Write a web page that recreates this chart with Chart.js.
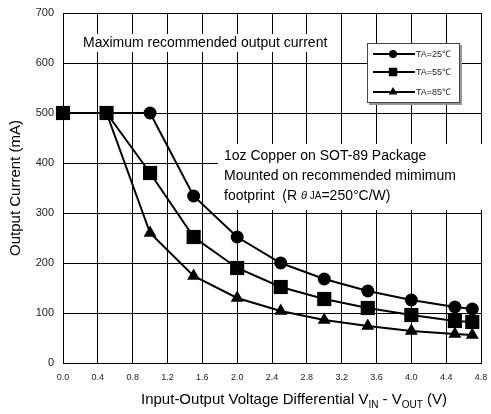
<!DOCTYPE html>
<html>
<head>
<meta charset="utf-8">
<script src="https://cdn.jsdelivr.net/npm/chart.js@4"></script>
<style>
  html, body { margin: 0; padding: 0; background: #fff; }
  #wrap { width: 491px; height: 414px; }
</style>
</head>
<body>
<div id="wrap"><canvas id="chart" width="491" height="414"></canvas></div>
<script>
// ── Data ─────────────────────────────────────────────────────
const voltage = [0, 0.5, 1.0, 1.5, 2.0, 2.5, 3.0, 3.5, 4.0, 4.5, 4.7];
const current25 = [500, 500, 500, 334, 252, 200, 168, 144, 126, 112, 108];
const current55 = [500, 500, 380, 252, 190, 152, 128, 110, 96, 84, 82];
const current85 = [500, 500, 260, 174, 130, 104, 86, 74, 64, 58, 56];
const seriesLabels = ['TA=25\u2103', 'TA=55\u2103', 'TA=85\u2103'];
const markers = ['circle', 'rect', 'triangle'];
const markerSizes = [6.5, 10, 7.5];
const legendSizes = [4, 6, 5];

const FONT = '"Liberation Sans", Arial, sans-serif';
const toPoints = ys => voltage.map((v, i) => ({ x: v, y: ys[i] }));

// ── Annotations, legend and axis titles ──────────────────────
const extras = {
  id: 'extras',
  beforeDatasetsDraw(chart) {
    const ctx = chart.ctx;
    ctx.save();
    ctx.fillStyle = '#fff';
    ctx.fillRect(78, 34, 258, 18);
    ctx.fillRect(218, 144, 267, 66);
    ctx.fillStyle = '#000';
    ctx.textBaseline = 'middle';
    ctx.font = '14px ' + FONT;
    ctx.fillText('Maximum recommended output current', 83, 43);
    ctx.fillText('1oz Copper on SOT-89 Package', 224, 156);
    ctx.fillText('Mounted on recommended mimimum', 224, 176);
    let x = 224;
    const part = (t, f) => { ctx.font = f; ctx.fillText(t, x, 196); x += ctx.measureText(t).width; };
    part('footprint  (R ', '14px ' + FONT);
    part('\u03b8', 'italic 11px ' + FONT);
    part(' JA', '10px ' + FONT);
    part('=250\u00b0C/W)', '14px ' + FONT);
    ctx.restore();
  },
  afterDraw(chart) {
    const ctx = chart.ctx;
    ctx.save();
    // legend box
    ctx.fillStyle = '#999';
    ctx.fillRect(369, 45, 93, 60);
    ctx.fillStyle = '#fff';
    ctx.fillRect(367, 43, 93, 60);
    ctx.strokeStyle = '#444';
    ctx.lineWidth = 1;
    ctx.strokeRect(367.5, 43.5, 92, 59);
    const rows = [54, 72, 92];
    chart.data.datasets.forEach((ds, i) => {
      ctx.strokeStyle = '#000';
      ctx.lineWidth = 2;
      ctx.beginPath();
      ctx.moveTo(373, rows[i]);
      ctx.lineTo(415, rows[i]);
      ctx.stroke();
      ctx.fillStyle = '#000';
      Chart.helpers.drawPoint(ctx, { pointStyle: markers[i], radius: legendSizes[i], borderWidth: 0 }, 393, rows[i]);
      ctx.font = '9px ' + FONT;
      ctx.textBaseline = 'middle';
      ctx.fillStyle = '#222';
      ctx.fillText(ds.label, 416, rows[i] + 1);
    });
    // y axis title
    ctx.fillStyle = '#000';
    ctx.font = '15px ' + FONT;
    ctx.textAlign = 'center';
    ctx.textBaseline = 'middle';
    ctx.translate(16, 188);
    ctx.rotate(-Math.PI / 2);
    ctx.fillText('Output Current (mA)', 0, 0);
    ctx.setTransform(1, 0, 0, 1, 0, 0);
    // x axis title with subscripts
    const parts = [
      ['Input-Output Voltage Differential V', 15, 0],
      ['IN', 10, 4],
      [' - V', 15, 0],
      ['OUT', 10, 4],
      [' (V)', 15, 0],
    ];
    ctx.textAlign = 'left';
    ctx.textBaseline = 'alphabetic';
    let total = 0;
    parts.forEach(([t, s]) => { ctx.font = s + 'px ' + FONT; total += ctx.measureText(t).width; });
    let x = 294 - total / 2;
    parts.forEach(([t, s, dy]) => {
      ctx.font = s + 'px ' + FONT;
      ctx.fillText(t, x, 404 + dy);
      x += ctx.measureText(t).width;
    });
    ctx.restore();
  },
};

// ── Chart ────────────────────────────────────────────────────
new Chart(document.getElementById('chart'), {
  type: 'line',
  data: {
    datasets: [current25, current55, current85].map((ys, i) => ({
      label: seriesLabels[i],
      data: toPoints(ys),
      borderColor: '#000',
      backgroundColor: '#000',
      borderWidth: 2,
      pointStyle: markers[i],
      pointRadius: markerSizes[i],
      pointBackgroundColor: '#000',
      pointBorderWidth: 0,
      tension: 0,
      clip: false,
    })),
  },
  options: {
    responsive: false,
    animation: false,
    layout: { padding: { top: 13, right: 4, left: 0, bottom: 0 } },
    plugins: { legend: { display: false }, tooltip: { enabled: false } },
    scales: {
      x: {
        type: 'linear',
        min: 0,
        max: 4.8,
        afterBuildTicks: s => { s.ticks = Array.from({ length: 13 }, (_, i) => ({ value: +(i * 0.4).toFixed(1) })); },
        grid: { color: '#000', lineWidth: 1, drawTicks: false },
        border: { color: '#000', width: 1 },
        ticks: { color: '#222', font: { family: FONT, size: 9 }, padding: 9, maxRotation: 0, autoSkip: false,
          callback: v => v.toFixed(1) },
        afterFit: s => { s.height = 51; s.paddingLeft = 0; s.paddingRight = 0; },
      },
      y: {
        min: 0,
        max: 700,
        ticks: { stepSize: 100, color: '#222', font: { family: FONT, size: 11 }, padding: 9 },
        grid: { color: '#000', lineWidth: 1, drawTicks: false },
        border: { color: '#000', width: 1 },
        afterFit: s => { s.width = 63; s.paddingTop = 0; s.paddingBottom = 0; },
      },
    },
  },
  plugins: [extras],
});
</script>
</body>
</html>
